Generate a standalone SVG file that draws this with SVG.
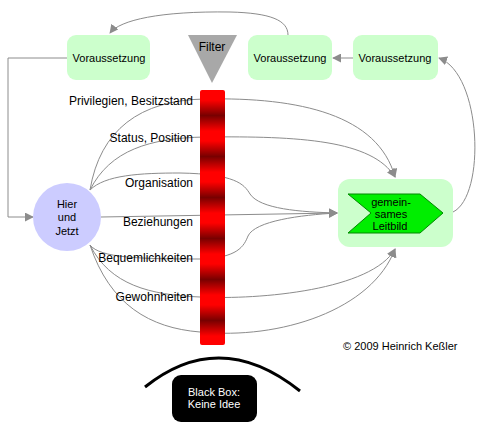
<svg xmlns="http://www.w3.org/2000/svg" width="490" height="430" viewBox="0 0 490 430">
<style>
text{font-family:"Liberation Sans",Arial,sans-serif;fill:#000}
.t11{font-size:11px}
.t12{font-size:12px}
.mid{text-anchor:middle}
.end{text-anchor:end}
.box{fill:#ccffcc}
.con{fill:none;stroke:#8c8c8c;stroke-width:1}
.arr{marker-end:url(#ah)}
</style>
<defs>
<marker id="ah" viewBox="0 0 10 10" refX="9" refY="5" markerWidth="9" markerHeight="9" markerUnits="userSpaceOnUse" orient="auto">
<path d="M0,0 L10,5 L0,10 z" fill="#8c8c8c"/>
</marker>
<linearGradient id="bar" gradientUnits="userSpaceOnUse" x1="0" y1="95" x2="0" y2="136" spreadMethod="repeat">
<stop offset="0" stop-color="#ff0000"/>
<stop offset="0.12" stop-color="#ff0000"/>
<stop offset="0.5" stop-color="#780000"/>
<stop offset="0.88" stop-color="#ff0000"/>
<stop offset="1" stop-color="#ff0000"/>
</linearGradient>
</defs>

<g id="connectors">
<path class="con arr" d="M67,58 H8 V217 H33"/>
<path class="con arr" d="M288,35 C288,20 270,13 230,12 C160,11 120,20 110,33"/>
<path class="con arr" d="M353,58 H333"/>
<path class="con arr" d="M453,212 C486,196 482,74 439,58"/>
<path class="con arr" d="M90,190 C100,130 140,100 205,99 C300,97 378,115 395,177"/>
<path class="con arr" d="M90,190 C110,150 150,138 205,137 C300,136 372,140 395,177"/>
<path class="con arr" d="M90,190 C105,175 140,173 180,173 C235,174 244,184 250,194 C260,209 300,212 337,213"/>
<path class="con arr" d="M101,217 L337,213"/>
<path class="con arr" d="M90,245 C100,258 140,259 200,259 C238,258 244,246 248,236 C255,221 300,215 337,213"/>
<path class="con arr" d="M90,245 C110,285 150,295 200,297 C260,300 372,290 395,249"/>
<path class="con arr" d="M90,245 C110,305 150,328 200,332 C280,340 372,310 395,249"/>
</g>

<g id="filter">
<polygon points="188,35 237,35 212,83" fill="#a8a8a8"/>
<text class="t12 mid" x="212" y="51">Filter</text>
<rect x="200" y="90" width="25" height="255" rx="2" fill="url(#bar)"/>
</g>

<g id="voraussetzung1">
<rect class="box" x="67" y="35" width="83" height="45" rx="9"/>
<text class="t11 mid" x="109" y="62">Voraussetzung</text>
</g>
<g id="voraussetzung2">
<rect class="box" x="248" y="35" width="84" height="45" rx="9"/>
<text class="t11 mid" x="290" y="62">Voraussetzung</text>
</g>
<g id="voraussetzung3">
<rect class="box" x="353" y="35" width="85" height="45" rx="9"/>
<text class="t11 mid" x="395" y="62">Voraussetzung</text>
</g>

<g id="hier-und-jetzt">
<circle cx="67" cy="217" r="34" fill="#ccccff"/>
<text class="t11 mid" x="67" y="208">Hier</text>
<text class="t11 mid" x="67" y="221">und</text>
<text class="t11 mid" x="67" y="235">Jetzt</text>
</g>

<g id="leitbild">
<rect class="box" x="338" y="179" width="115" height="68" rx="12"/>
<polygon points="348,194 420,194 443,213 420,233 348,233 371,213" fill="#00ee00" stroke="#008800" stroke-width="1"/>
<text class="t11 mid" x="391" y="206">gemein-</text>
<text class="t11 mid" x="391" y="218">sames</text>
<text class="t11 mid" x="390" y="230">Leitbild</text>
</g>

<g id="labels">
<text class="t12 end" x="193" y="105">Privilegien, Besitzstand</text>
<text class="t12 end" x="193" y="142">Status, Position</text>
<text class="t12 end" x="193" y="187">Organisation</text>
<text class="t12 end" x="193" y="226">Beziehungen</text>
<text class="t12 end" x="193" y="262">Bequemlichkeiten</text>
<text class="t12 end" x="193" y="301">Gewohnheiten</text>
</g>

<g id="black-box">
<path d="M145,387 Q220,327 300,391" fill="none" stroke="#000" stroke-width="3"/>
<rect x="172" y="375" width="85" height="47" rx="9" fill="#000"/>
<text class="t11 mid" x="214" y="396" style="fill:#fff">Black Box:</text>
<text class="t11 mid" x="214" y="408" style="fill:#fff">Keine Idee</text>
</g>

<g id="copyright">
<text class="t11" x="343" y="350">© 2009 Heinrich Keßler</text>
</g>
</svg>
